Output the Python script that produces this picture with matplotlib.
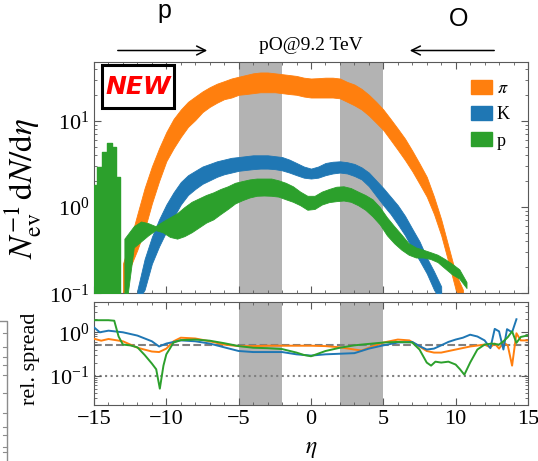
import matplotlib
matplotlib.use("Agg")
import matplotlib.pyplot as plt
from matplotlib.patches import Patch, Rectangle
from matplotlib.lines import Line2D
from matplotlib.ticker import MultipleLocator, LogLocator

plt.rcParams['font.family'] = ['Liberation Serif', 'DejaVu Serif']
plt.rcParams['mathtext.fontset'] = 'stix'

# --- top panel: dN/deta bands (lower / upper edge) ---
eta_pi = [-13.0, -12.5, -12.0, -11.5, -11.0, -10.5, -10.0, -9.5, -9.0, -8.5,
          -8.0, -7.5, -7.0, -6.5, -6.0, -5.5, -5.0, -4.5, -4.0, -3.5,
          -3.0, -2.5, -2.0, -1.5, -1.0, -0.5, 0.0, 0.5, 1.0, 1.5,
          2.0, 2.5, 3.0, 3.5, 4.0, 4.5, 5.0, 5.5, 6.0, 6.5,
          7.0, 7.5, 8.0, 8.5, 9.0, 9.5, 10.0, 10.5]
pi_hi = [0.22, 0.41, 0.83, 1.66, 2.95, 4.8, 7.4, 10.5, 13.5, 16.6,
         19.1, 21.9, 24.5, 26.9, 28.8, 30.9, 32.4, 33.9, 35.5, 36.3,
         36.3, 35.5, 34.7, 33.9, 33.1, 31.6, 30.9, 31.2, 31.6, 31.6,
         30.9, 28.2, 26.3, 23.4, 20.0, 16.6, 13.5, 10.5, 8.1, 6.2,
         4.5, 3.2, 2.24, 1.32, 0.72, 0.35, 0.17, 0.11]
pi_lo = [0.089, 0.20, 0.32, 0.55, 1.10, 2.0, 3.4, 4.8, 6.5, 8.5,
         10.2, 12.6, 14.5, 16.2, 17.8, 18.6, 20.0, 20.4, 20.9, 21.4,
         21.4, 21.4, 20.9, 20.4, 20.0, 19.1, 18.6, 18.6, 18.6, 18.6,
         18.2, 16.6, 15.1, 13.5, 11.5, 9.5, 7.8, 6.0, 4.6, 3.5,
         2.6, 1.86, 1.32, 0.83, 0.47, 0.23, 0.11, 0.08]

eta_k = [-12.0, -11.5, -11.0, -10.5, -10.0, -9.5, -9.0, -8.5, -8.0, -7.5,
         -7.0, -6.5, -6.0, -5.5, -5.0, -4.5, -4.0, -3.5, -3.0, -2.5,
         -2.0, -1.5, -1.0, -0.5, 0.0, 0.5, 1.0, 1.5, 2.0, 2.5,
         3.0, 3.5, 4.0, 4.5, 5.0, 5.5, 6.0, 6.5, 7.0, 7.5,
         8.0, 8.5, 9.0]
k_hi = [0.11, 0.25, 0.45, 0.72, 1.07, 1.48, 1.95, 2.34, 2.63, 2.95,
        3.16, 3.39, 3.55, 3.72, 3.80, 3.89, 3.98, 3.98, 3.98, 3.89,
        3.80, 3.55, 3.24, 2.95, 2.79, 2.95, 3.24, 3.35, 3.39, 3.31,
        3.16, 2.88, 2.51, 2.04, 1.66, 1.32, 1.05, 0.79, 0.56, 0.40,
        0.26, 0.18, 0.12]
k_lo = [0.08, 0.11, 0.22, 0.35, 0.52, 0.76, 1.07, 1.38, 1.62, 1.86,
        2.04, 2.24, 2.40, 2.51, 2.63, 2.69, 2.75, 2.79, 2.79, 2.75,
        2.66, 2.51, 2.34, 2.19, 2.14, 2.19, 2.34, 2.45, 2.51, 2.45,
        2.29, 2.09, 1.74, 1.35, 1.05, 0.83, 0.63, 0.47, 0.33, 0.24,
        0.17, 0.11, 0.08]

# proton: forward spike (histogram columns) then the smooth band
p_spike_edges = [-15.0, -14.8, -14.47, -14.12, -13.78, -13.5, -13.2]
p_spike_hi = [1.8, 2.9, 4.3, 5.5, 5.0, 2.2]
eta_p = [-12.9, -12.25, -11.75, -11.25, -10.75, -10.25,
         -9.75, -9.25, -8.75, -8.25, -7.75, -7.25, -6.75, -6.25, -5.75, -5.25,
         -4.75, -4.25, -3.75, -3.25, -2.75, -2.25, -1.75, -1.25, -0.75, -0.25,
         0.25, 0.75, 1.25, 1.75, 2.25, 2.75, 3.25, 3.75, 4.25, 4.75,
         5.25, 5.75, 6.25, 6.75, 7.25, 7.75, 8.25, 8.75, 9.25, 9.75,
         10.25, 10.75]
p_hi = [0.43, 0.60, 0.68, 0.65, 0.60, 0.68,
        0.76, 0.85, 1.0, 1.15, 1.26, 1.38, 1.48, 1.62, 1.74, 1.91,
        2.0, 2.09, 2.14, 2.14, 2.14, 2.04, 1.91, 1.74, 1.51, 1.35,
        1.35, 1.51, 1.62, 1.72, 1.74, 1.66, 1.51, 1.38, 1.23, 1.0,
        0.76, 0.60, 0.48, 0.38, 0.34, 0.32, 0.30, 0.28, 0.25, 0.22,
        0.19, 0.135]
p_lo = [0.05, 0.34, 0.40, 0.47, 0.54, 0.51,
        0.45, 0.43, 0.46, 0.51, 0.58, 0.66, 0.72, 0.83, 0.95, 1.10,
        1.20, 1.29, 1.35, 1.36, 1.35, 1.32, 1.23, 1.15, 1.05, 0.93,
        0.95, 1.07, 1.14, 1.17, 1.19, 1.15, 1.05, 0.93, 0.78, 0.63,
        0.47, 0.38, 0.32, 0.28, 0.26, 0.26, 0.25, 0.23, 0.195, 0.166,
        0.148, 0.115]

# --- bottom panel: relative spread ---
eta_s_pi = [-15, -14.5, -14, -13, -12, -11, -10.5, -10, -9.5, -9,
            -8, -7, -6, -5, -4, -3, -2, -1, 0, 1,
            2, 3, 3.5, 4, 5, 6, 6.8, 7.5, 8, 8.5,
            9, 10, 11, 12, 12.4, 12.7, 13.0, 13.3, 13.6, 13.9,
            14.2, 14.5, 15]
s_pi = [0.71, 0.64, 0.70, 0.62, 0.44, 0.36, 0.35, 0.42, 0.62, 0.75,
        0.72, 0.62, 0.52, 0.48, 0.48, 0.49, 0.49, 0.49, 0.49, 0.48,
        0.45, 0.40, 0.38, 0.44, 0.58, 0.68, 0.65, 0.47, 0.37, 0.34,
        0.34, 0.40, 0.47, 0.52, 0.45, 0.55, 0.42, 0.58, 0.50, 0.17,
        0.95, 0.65, 0.65]

eta_s_k = [-15, -14.6, -14, -13, -12, -11, -10.5, -10, -9, -8,
           -7, -6, -5, -4, -3, -2, -1, 0, 1, 2,
           3, 4, 5, 6, 7, 7.5, 8, 8.5, 9, 9.5,
           10, 10.5, 11, 11.5, 12, 12.4, 12.7, 13.0, 13.3, 13.55,
           13.9, 14.2]
s_k = [1.3, 1.0, 1.09, 1.0, 0.84, 0.62, 0.47, 0.55, 0.65, 0.62,
       0.55, 0.45, 0.37, 0.35, 0.35, 0.35, 0.31, 0.29, 0.31, 0.32,
       0.33, 0.42, 0.50, 0.58, 0.60, 0.48, 0.40, 0.42, 0.50, 0.60,
       0.68, 0.75, 0.88, 0.80, 0.65, 0.43, 1.2, 1.05, 0.40, 1.18,
       1.0, 2.0]

eta_s_p = [-15, -14, -13.6, -13.3, -13.0, -12.5, -12, -11.5, -11, -10.7,
           -10.45, -10.2, -10, -9.5, -9, -8, -7, -6, -5, -4,
           -3, -2, -1, -0.5, 0, 1, 2, 3, 4, 5,
           6, 7, 7.5, 8, 8.3, 8.6, 9, 9.5, 10, 10.3,
           10.6, 11, 11.5, 12, 12.5, 13, 13.3, 13.6, 13.9, 14.2,
           14.5, 15]
s_p = [1.9, 1.9, 1.85, 0.8, 0.52, 0.5, 0.45, 0.30, 0.19, 0.14,
       0.05, 0.17, 0.31, 0.58, 0.66, 0.68, 0.64, 0.56, 0.48, 0.44,
       0.43, 0.41, 0.34, 0.30, 0.28, 0.37, 0.44, 0.50, 0.54, 0.58,
       0.60, 0.58, 0.40, 0.20, 0.17, 0.21, 0.20, 0.21, 0.18, 0.14,
       0.105, 0.2, 0.40, 0.52, 0.55, 0.52, 0.62, 0.77, 1.05, 0.57,
       0.78, 0.85]

c_pi, c_k, c_p = '#ff7f0e', '#1f77b4', '#2ca02c'
band_gray = '#b3b3b3'
spine_c = '0.35'

W, H = 538, 461
fig = plt.figure(figsize=(W / 100, H / 100), dpi=100)
ax1 = fig.add_axes([94 / W, 1 - 293.3 / H, 434 / W, 231.3 / H])
ax2 = fig.add_axes([94 / W, 1 - 405 / H, 434 / W, 103 / H])

for ax in (ax1, ax2):
    ax.axvspan(-5, -2, color=band_gray, lw=0, zorder=0)
    ax.axvspan(2, 5, color=band_gray, lw=0, zorder=0)
    ax.set_xlim(-15, 15)
    ax.set_yscale('log')
    ax.xaxis.set_major_locator(MultipleLocator(5))
    ax.xaxis.set_minor_locator(MultipleLocator(1))
    ax.tick_params(which='both', direction='in', top=True, right=True,
                   color=spine_c, labelsize=16)
    ax.tick_params(which='major', length=5)
    ax.tick_params(which='minor', length=2.5)
    for s in ax.spines.values():
        s.set_color(spine_c)

# bands
ax1.fill_between(eta_pi, pi_lo, pi_hi, color=c_pi, lw=0.6, edgecolor=c_pi, zorder=2)
ax1.fill_between(eta_k, k_lo, k_hi, color=c_k, lw=0.6, edgecolor=c_k, zorder=3)
ax1.fill_between(p_spike_edges, 0.01, p_spike_hi + p_spike_hi[-1:], step='post',
                 facecolor=c_p, edgecolor=c_p, lw=1.0, zorder=4)
ax1.fill_between(eta_p, p_lo, p_hi, color=c_p, lw=0.6, edgecolor=c_p, zorder=4)

ax1.set_ylim(0.1, 48)
ax1.tick_params(labelbottom=False)
ax1.yaxis.set_major_locator(LogLocator(base=10, numticks=10))
ax1.set_ylabel(r'$N_{\rm ev}^{-1}\,{\rm d}N/{\rm d}\eta$', fontsize=24)
ax1.yaxis.set_label_coords(-0.115, 0.455)

ax1.legend(handles=[Patch(color=c_pi), Patch(color=c_k), Patch(color=c_p)],
           labels=[r'$\pi$', 'K', 'p'], loc='upper right', frameon=False,
           fontsize=13, handlelength=1.15, handleheight=0.8,
           labelspacing=0.5, handletextpad=0.3, borderaxespad=0.6)

# bottom panel lines
ax2.axhline(0.5, color='0.5', ls='--', lw=1.5, zorder=1)
ax2.axhline(0.1, color='0.5', ls=':', lw=1.5, zorder=1)
ax2.plot(eta_s_pi, s_pi, color=c_pi, lw=1.4, zorder=3)
ax2.plot(eta_s_k, s_k, color=c_k, lw=1.4, zorder=3)
ax2.plot(eta_s_p, s_p, color=c_p, lw=1.4, zorder=3)
ax2.set_ylim(0.021, 5.0)
ax2.yaxis.set_major_locator(LogLocator(base=10, numticks=10))
ax2.set_ylabel('rel. spread', fontsize=16)
ax2.yaxis.set_label_coords(-0.125, 0.45)
ax2.set_xlabel(r'$\eta$', fontsize=17)
ax2.xaxis.set_label_coords(0.5, -0.33)

# NEW box
fig.add_artist(Rectangle((102 / W, 1 - 108 / H), 72 / W, 43 / H,
                         transform=fig.transFigure, fill=False,
                         edgecolor='black', lw=2.2))
fig.text(138 / W, 1 - 87 / H, 'NEW', color='red', fontsize=18,
         fontweight='bold', fontstyle='italic', family='Liberation Sans Narrow',
         ha='center', va='center')

# beam labels and arrows
fig.text(164 / W, 1 - 18 / H, 'p', fontsize=18, family='Liberation Sans',
         ha='center', va='baseline')
fig.text(459 / W, 1 - 26 / H, 'O', fontsize=18, family='Liberation Sans',
         ha='center', va='baseline')
fig.text(311 / W, 1 - 46 / H, 'pO@9.2 TeV', fontsize=14,
         ha='center', va='center')
ax1.annotate('', xy=(210 / W, 1 - 50.5 / H), xytext=(115 / W, 1 - 50.5 / H),
             xycoords='figure fraction', textcoords='figure fraction',
             arrowprops=dict(arrowstyle='->', lw=1.1, mutation_scale=16))
ax1.annotate('', xy=(407 / W, 1 - 50.5 / H), xytext=(497 / W, 1 - 50.5 / H),
             xycoords='figure fraction', textcoords='figure fraction',
             arrowprops=dict(arrowstyle='->', lw=1.1, mutation_scale=16))

# clipped frame of a neighbouring panel at the left edge
fig.add_artist(Line2D([0, 7 / W, 7 / W], [1 - 321 / H, 1 - 321 / H, 0],
                      transform=fig.transFigure, color='0.55', lw=1))
for yy in [333, 347, 357, 365, 375, 393, 413, 427, 435, 447, 452]:
    fig.add_artist(Line2D([3 / W, 7 / W], [1 - yy / H, 1 - yy / H],
                          transform=fig.transFigure, color='0.55', lw=0.8))

fig.savefig('out.png', dpi=100)
